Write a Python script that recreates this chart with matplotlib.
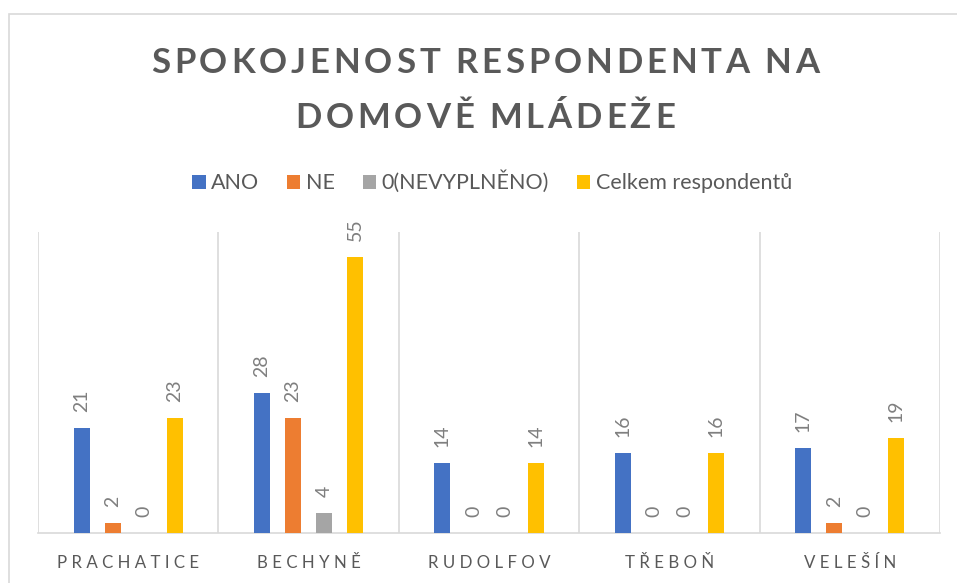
import matplotlib
matplotlib.use("Agg")
import matplotlib.pyplot as plt
from matplotlib.patches import Rectangle
import numpy as np

categories = ["PRACHATICE", "BECHYNĚ", "RUDOLFOV", "TŘEBOŇ", "VELEŠÍN"]
series_names = ["ANO", "NE", "0(NEVYPLNĚNO)", "Celkem respondentů"]
ano = [21, 28, 14, 16, 17]
ne = [2, 23, 0, 0, 2]
nevyplneno = [0, 4, 0, 0, 0]
celkem = [23, 55, 14, 16, 19]
title_lines = ["SPOKOJENOST RESPONDENTA NA", "DOMOVĚ MLÁDEŽE"]

colors = ["#4472C4", "#ED7D31", "#A5A5A5", "#FFC000"]
text_gray = "#595959"
grid_gray = "#D9D9D9"

plt.rcParams['font.family'] = ['Lato', 'DejaVu Sans']

W, H = 957, 583
fig = plt.figure(figsize=(W / 100, H / 100), dpi=100)

# chart border
fig.patches.append(Rectangle((9 / W, -0.1), 1.2, 1.1 - 14 / H, transform=fig.transFigure,
                             fill=False, edgecolor=grid_gray, linewidth=1.2))

ax = fig.add_axes([38 / W, (H - 533) / H, (940 - 38) / W, (533 - 232) / H])

x = np.arange(len(categories))
step = 31 / 180
bw = 16 / 180
all_series = [ano, ne, nevyplneno, celkem]
for i, (name, vals, c) in enumerate(zip(series_names, all_series, colors)):
    pos = x + (i - 1.5) * step
    ax.bar(pos, vals, width=bw, color=c, label=name, zorder=3)
    for xb, v in zip(pos, vals):
        ax.annotate(str(v), xy=(xb, v), xytext=(0, 11.5), textcoords="offset points",
                    rotation=90, ha="center", va="bottom", fontsize=14, color="#7F7F7F")

ax.set_xlim(-0.5, len(categories) - 0.5)
ax.set_ylim(0, 60)
ax.set_yticks([])
ax.set_xticks(x)
ax.set_xticklabels([" ".join(c) for c in categories], fontsize=12.2, color=text_gray)
ax.tick_params(axis="x", length=0, pad=16)
ax.set_xticks(np.arange(-0.5, len(categories)), minor=True)
ax.tick_params(axis="x", which="minor", length=0)
ax.grid(True, which="minor", axis="x", color=grid_gray, linewidth=1.2, zorder=0)
for s in ["top", "left", "right"]:
    ax.spines[s].set_visible(False)
ax.spines["bottom"].set_color(grid_gray)
ax.spines["bottom"].set_linewidth(1.2)

# letter-spaced title drawn character by character
renderer = fig.canvas.get_renderer()
tracking = 3.9  # px between characters
title_y = [60, 115]
cx = 485
for line, ly in zip(title_lines, title_y):
    widths = []
    for ch in line:
        t = fig.text(0, 0, ch, fontsize=25, fontweight="bold")
        bb = t.get_window_extent(renderer)
        widths.append(bb.width if ch != " " else 25 * 100 / 72 * 0.2)
        t.remove()
    total = sum(widths) + tracking * (len(line) - 1)
    xp = cx - total / 2
    for ch, w in zip(line, widths):
        if ch != " ":
            fig.text(xp / W, 1 - ly / H, ch, fontsize=25, fontweight="bold", color=text_gray,
                     ha="left", va="center_baseline")
        xp += w + tracking

fig.legend(loc="center", bbox_to_anchor=(492 / W, 1 - 182 / H), ncol=4, frameon=False,
           fontsize=15.5, labelcolor=text_gray, handlelength=0.62, handleheight=0.62,
           handletextpad=0.25, columnspacing=1.3)

fig.savefig("out.png", dpi=100)
